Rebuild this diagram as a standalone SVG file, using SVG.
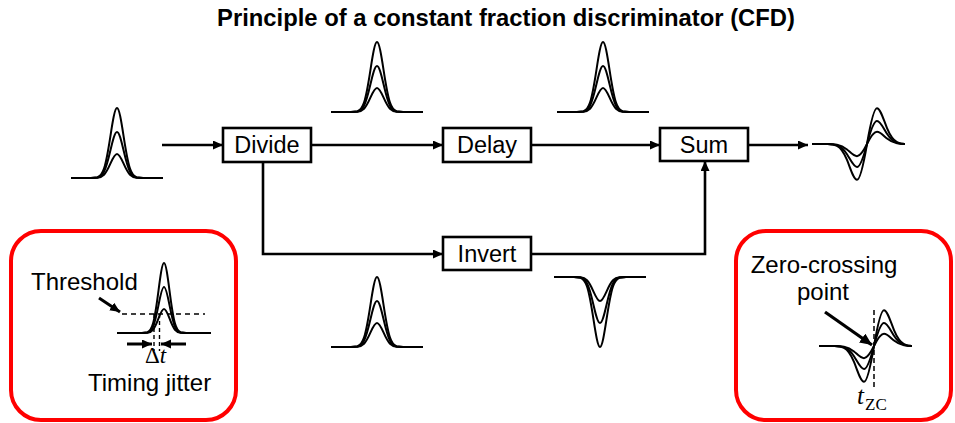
<svg xmlns="http://www.w3.org/2000/svg" xmlns:xlink="http://www.w3.org/1999/xlink" width="955" height="423" viewBox="0 0 955 423">
<style>
.lbl{font-family:"Liberation Sans",Arial,sans-serif;font-size:23.5px;fill:#000;}
.title{font-family:"Liberation Sans",Arial,sans-serif;font-size:23.8px;font-weight:bold;fill:#000;}
.box{fill:#fff;stroke:#000;stroke-width:2.6;}
.conn{fill:none;stroke:#000;stroke-width:2.6;}
.sig{fill:none;stroke:#000;stroke-width:2;stroke-linejoin:round;}
.frame{fill:none;stroke:#ff0000;stroke-width:4;}
.dash{fill:none;stroke:#000;stroke-width:1.6;stroke-dasharray:5,4;}
.math{font-family:"Liberation Serif","DejaVu Serif",serif;fill:#000;}
</style>
<defs>
<marker id="ah" markerUnits="userSpaceOnUse" markerWidth="12" markerHeight="10" refX="10" refY="4.5" orient="auto">
<path d="M0,0 L10,4.5 L0,9 z" fill="#000"/>
</marker>
<marker id="ah2" markerUnits="userSpaceOnUse" markerWidth="14" markerHeight="12" refX="12" refY="5.5" orient="auto">
<path d="M0,0 L12,5.5 L0,11 z" fill="#000"/>
</marker>
<path id="g70" class="sig" d="M-46,0 L-26,0 L-19.5,-0.78 C-17.33,-1.55 -15.17,-3.16 -13,-9.47 C-10.83,-15.79 -8.67,-28.30 -6.5,-42.46 C-4.33,-56.61 -2.17,-70 0,-70 C2.17,-70 4.33,-56.61 6.5,-42.46 C8.67,-28.30 10.83,-15.79 13,-9.47 C15.17,-3.16 17.33,-1.55 19.5,-0.78 L26,0 L46,0"/>
<path id="g46" class="sig" d="M-46,0 L-26,0 L-19.5,-0.51 C-17.33,-1.02 -15.17,-2.07 -13,-6.22 C-10.83,-10.37 -8.67,-18.60 -6.5,-27.90 C-4.33,-37.20 -2.17,-46 0,-46 C2.17,-46 4.33,-37.20 6.5,-27.90 C8.67,-18.60 10.83,-10.37 13,-6.22 C15.17,-2.07 17.33,-1.02 19.5,-0.51 L26,0 L46,0"/>
<path id="g24" class="sig" d="M-46,0 L-26,0 L-19.5,-0.27 C-17.33,-0.53 -15.17,-1.08 -13,-3.25 C-10.83,-5.41 -8.67,-9.70 -6.5,-14.56 C-4.33,-19.41 -2.17,-24 0,-24 C2.17,-24 4.33,-19.41 6.5,-14.56 C8.67,-9.70 10.83,-5.41 13,-3.25 C15.17,-1.08 17.33,-0.53 19.5,-0.27 L26,0 L46,0"/>
<path id="n70" class="sig" d="M-47,0 L-22,0 L-16.5,-0.78 C-14.67,-1.55 -12.83,-3.16 -11,-9.47 C-9.17,-15.79 -7.33,-28.30 -5.5,-42.46 C-3.67,-56.61 -1.83,-70 0,-70 C1.83,-70 3.67,-56.61 5.5,-42.46 C7.33,-28.30 9.17,-15.79 11,-9.47 C12.83,-3.16 14.67,-1.55 16.5,-0.78 L22,0 L47,0"/>
<path id="n46" class="sig" d="M-47,0 L-22,0 L-16.5,-0.51 C-14.67,-1.02 -12.83,-2.07 -11,-6.22 C-9.17,-10.37 -7.33,-18.60 -5.5,-27.90 C-3.67,-37.20 -1.83,-46 0,-46 C1.83,-46 3.67,-37.20 5.5,-27.90 C7.33,-18.60 9.17,-10.37 11,-6.22 C12.83,-2.07 14.67,-1.02 16.5,-0.51 L22,0 L47,0"/>
<path id="n24" class="sig" d="M-47,0 L-22,0 L-16.5,-0.27 C-14.67,-0.53 -12.83,-1.08 -11,-3.25 C-9.17,-5.41 -7.33,-9.70 -5.5,-14.56 C-3.67,-19.41 -1.83,-24 0,-24 C1.83,-24 3.67,-19.41 5.5,-14.56 C7.33,-9.70 9.17,-5.41 11,-3.25 C12.83,-1.08 14.67,-0.53 16.5,-0.27 L22,0 L47,0"/>
<path id="b59" class="sig" d="M-55,0 L-40,0 C-36.67,0.18 -33.33,0.22 -30,1.96 C-26.67,3.71 -23.33,7.99 -20,15.97 C-16.67,23.95 -13.33,35.78 -10,35.78 C-6.67,35.78 -3.33,19.65 0,0 C3.33,-19.65 6.67,-35.78 10,-35.78 C13.33,-35.78 16.67,-23.95 20,-15.97 C23.33,-7.99 26.67,-3.71 30,-1.96 C33.33,-0.22 35,0 38,0"/>
<path id="b38" class="sig" d="M-55,0 L-40,0 C-36.67,0.11 -33.33,0.14 -30,1.27 C-26.67,2.39 -23.33,5.15 -20,10.29 C-16.67,15.43 -13.33,23.05 -10,23.05 C-6.67,23.05 -3.33,12.65 0,0 C3.33,-12.65 6.67,-23.05 10,-23.05 C13.33,-23.05 16.67,-15.43 20,-10.29 C23.33,-5.15 26.67,-2.39 30,-1.27 C33.33,-0.14 35,0 38,0"/>
<path id="b20" class="sig" d="M-55,0 L-40,0 C-36.67,0.06 -33.33,0.07 -30,0.67 C-26.67,1.26 -23.33,2.71 -20,5.41 C-16.67,8.12 -13.33,12.13 -10,12.13 C-6.67,12.13 -3.33,6.66 0,0 C3.33,-6.66 6.67,-12.13 10,-12.13 C13.33,-12.13 16.67,-8.12 20,-5.41 C23.33,-2.71 26.67,-1.26 30,-0.67 C33.33,-0.07 35,0 38,0"/>
<g id="pulse"><use xlink:href="#g70"/><use xlink:href="#g46"/><use xlink:href="#g24"/></g>
<g id="npulse"><use xlink:href="#n70"/><use xlink:href="#n46"/><use xlink:href="#n24"/></g>
<g id="bip"><use xlink:href="#b59"/><use xlink:href="#b38"/><use xlink:href="#b20"/></g>
</defs>

<text class="title" x="506" y="26" text-anchor="middle">Principle of a constant fraction discriminator (CFD)</text>

<g id="connectors">
<path class="conn" d="M162,145 H223" marker-end="url(#ah)"/>
<path class="conn" d="M311,145 H443" marker-end="url(#ah)"/>
<path class="conn" d="M531,145 H660" marker-end="url(#ah)"/>
<path class="conn" d="M748,145 H808" marker-end="url(#ah)"/>
<path class="conn" d="M263,162 V254 H443" marker-end="url(#ah)"/>
<path class="conn" d="M531,254 H705 V161" marker-end="url(#ah)"/>
</g>

<g id="divide"><rect class="box" x="223" y="128" width="88" height="34"/><text class="lbl" x="267" y="153" text-anchor="middle">Divide</text></g>
<g id="delay"><rect class="box" x="443" y="128" width="88" height="34"/><text class="lbl" x="487" y="153" text-anchor="middle">Delay</text></g>
<g id="sum"><rect class="box" x="660" y="128" width="88" height="33"/><text class="lbl" x="704" y="153" text-anchor="middle">Sum</text></g>
<g id="invert"><rect class="box" x="443" y="237" width="88" height="33"/><text class="lbl" x="487" y="262" text-anchor="middle">Invert</text></g>

<g id="signals">
<use xlink:href="#pulse" transform="translate(117,178)"/>
<use xlink:href="#pulse" transform="translate(377,112)"/>
<use xlink:href="#pulse" transform="translate(603,112)"/>
<use xlink:href="#pulse" transform="translate(377,347)"/>
<use xlink:href="#pulse" transform="translate(600,277) scale(1,-1)"/>
<use xlink:href="#bip" transform="translate(867,144)"/>
</g>

<g id="jitter-inset">
<rect class="frame" x="11" y="231" width="225" height="189" rx="30" ry="30"/>
<text class="lbl" x="31" y="290" style="font-size:24px">Threshold</text>
<path class="conn" d="M99,298 L120,312" style="stroke-width:3" marker-end="url(#ah)"/>
<use xlink:href="#npulse" transform="translate(164,333)"/>
<path class="dash" d="M122,314 H205"/>
<path class="dash" d="M154,314 V351 M159.5,314 V351" style="stroke-dasharray:4,3;stroke-width:1.4"/>
<path class="conn" d="M127,344 H152" style="stroke-width:3" marker-end="url(#ah)"/>
<path class="conn" d="M186,344 H161" style="stroke-width:3" marker-end="url(#ah)"/>
<text class="math" x="145" y="363" style="font-size:23px">Δ<tspan font-style="italic">t</tspan></text>
<text class="lbl" x="88" y="391" style="font-size:24px">Timing jitter</text>
</g>

<g id="zc-inset">
<rect class="frame" x="736" y="231" width="215" height="189" rx="30" ry="30"/>
<text class="lbl" x="824" y="273" text-anchor="middle" style="font-size:24px">Zero-crossing</text>
<text class="lbl" x="823" y="300" text-anchor="middle" style="font-size:24px">point</text>
<use xlink:href="#bip" transform="translate(874,346)"/>
<path class="dash" d="M874,310 V390" style="stroke-dasharray:5,3;stroke-width:1.5"/>
<path class="conn" d="M825,312 L872,345" style="stroke-width:3.2" marker-end="url(#ah2)"/>
<text class="math" x="857" y="404" style="font-size:25px;font-style:italic">t</text>
<text class="math" x="865" y="410" style="font-size:17px">ZC</text>
</g>
</svg>
